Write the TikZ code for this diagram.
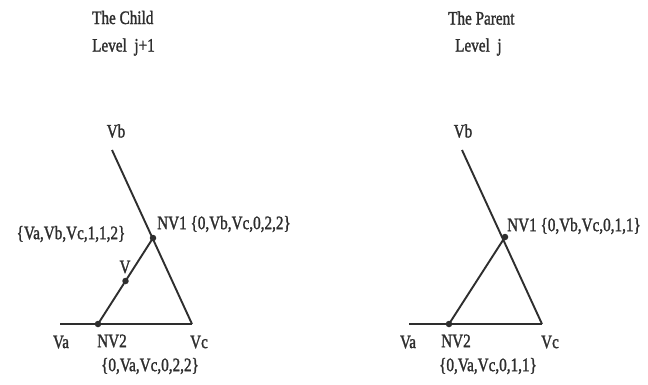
\documentclass[tikz,border=0pt]{standalone}
\usepackage{fontspec}
\usetikzlibrary{calc}
\setmainfont[FakeStretch=0.8,FakeBold=1.4]{Liberation Serif}
\definecolor{ink}{HTML}{2E2E2E}
\begin{document}
\begin{tikzpicture}[x=1pt,y=-1pt,
  lbl/.style={inner sep=0pt, text=ink, font=\fontsize{19}{22}\selectfont},
  edge/.style={draw=ink, line width=1.9pt},
  base/.style={draw=ink, line width=2.6pt},
  dot/.style={circle, fill=ink, inner sep=0pt, minimum size=6.5pt}]
\useasboundingbox[fill=white] (0,0) rectangle (648,384);
% ---------------- left: the child ----------------
\node[lbl, anchor=west] (ct1) at (92,17.5) {The Child};
\node[lbl, anchor=west] (ct2) at (92,47) {Level\ \ j+1};
\coordinate (Lb) at (112,150);
\coordinate (Lc) at (192,324);
\coordinate (La) at (60,324);
\coordinate (Ln1) at (153,238);
\coordinate (Ln2) at (98,324);
\coordinate (Lv) at ($(Ln2)!0.5!(Ln1)$);
\draw[edge] (Lb) -- (Lc);
\draw[base] (La) -- (Lc);
\draw[edge] (Ln2) -- (Ln1);
\node[dot] (Ldn1) at (Ln1) {};
\node[dot] (Ldn2) at (Ln2) {};
\node[dot] (Ldv) at (Lv) {};
\node[lbl] (Lvb) at (116,131) {Vb};
\node[lbl, anchor=west] (Lnv1) at (157,224) {NV1 \{0,Vb,Vc,0,2,2\}};
\node[lbl] (Lvset) at (71,234) {\{Va,Vb,Vc,1,1,2\}};
\node[lbl] (Lvl) at (125,267) {V};
\node[lbl] (Lva) at (61,342) {Va};
\node[lbl] (Lnv2) at (112,341) {NV2};
\node[lbl] (Lvc) at (199,342) {Vc};
\node[lbl] (Lnv2s) at (150,366) {\{0,Va,Vc,0,2,2\}};
% ---------------- right: the parent ----------------
\node[lbl, anchor=west] (pt1) at (448,18) {The Parent};
\node[lbl, anchor=west] (pt2) at (455,47) {Level\ \ j};
\coordinate (Rb) at (462,150);
\coordinate (Rc) at (542,324);
\coordinate (Ra) at (409,324);
\coordinate (Rn1) at (505,237);
\coordinate (Rn2) at (449,324);
\draw[edge] (Rb) -- (Rc);
\draw[base] (Ra) -- (Rc);
\draw[edge] (Rn2) -- (Rn1);
\node[dot] (Rdn1) at (Rn1) {};
\node[dot] (Rdn2) at (Rn2) {};
\node[lbl] (Rvb) at (463,131) {Vb};
\node[lbl, anchor=west] (Rnv1) at (507,226) {NV1 \{0,Vb,Vc,0,1,1\}};
\node[lbl] (Rva) at (408,342) {Va};
\node[lbl] (Rnv2) at (456,341) {NV2};
\node[lbl] (Rvc) at (550,342) {Vc};
\node[lbl] (Rnv2s) at (488,366) {\{0,Va,Vc,0,1,1\}};
\end{tikzpicture}
\end{document}
